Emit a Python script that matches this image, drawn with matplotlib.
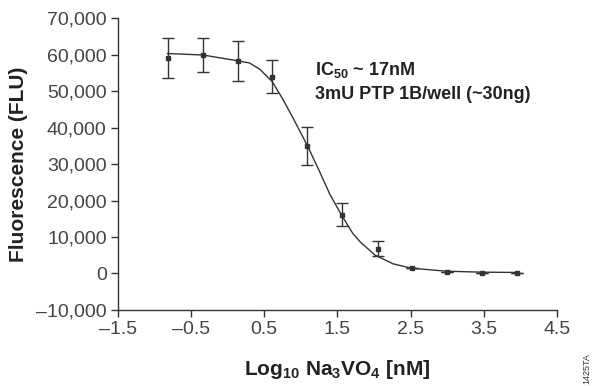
import matplotlib
matplotlib.use('Agg')
import matplotlib.pyplot as plt
from matplotlib.ticker import FuncFormatter

# measured points: log10 [Na3VO4] (nM), fluorescence mean and error
log_conc = [-0.82, -0.34, 0.14, 0.61, 1.09, 1.57, 2.05, 2.52, 3.00, 3.48, 3.95]
flu_mean = [59000, 59900, 58200, 54000, 34900, 16100, 6800, 1400, 450, 150, 150]
flu_err = [5500, 4600, 5500, 4400, 5200, 3100, 2100, 0, 0, 0, 0]

# fitted curve
curve_x = [-0.82, -0.34, 0.14, 0.30, 0.44, 0.61, 0.76, 0.90, 1.03, 1.12, 1.26,
           1.40, 1.56, 1.71, 1.81, 2.01, 2.26, 2.51, 2.99, 3.47, 3.95]
curve_y = [60300, 59900, 58300, 57700, 56000, 52600, 47600, 42400, 37400, 33800,
           27800, 21600, 15900, 11000, 8700, 5100, 2650, 1450, 630, 360, 280]

xticks = [-1.5, -0.5, 0.5, 1.5, 2.5, 3.5, 4.5]
yticks = [-10000, 0, 10000, 20000, 30000, 40000, 50000, 60000, 70000]

ink = '#333333'
bold_family = 'Liberation Sans'

plt.rcParams['mathtext.fontset'] = 'custom'
plt.rcParams['mathtext.rm'] = 'Liberation Sans:bold'
plt.rcParams['mathtext.bf'] = 'Liberation Sans:bold'
plt.rcParams['mathtext.it'] = 'Liberation Sans:bold'
plt.rcParams['mathtext.default'] = 'rm'

fig = plt.figure(figsize=(5.95, 3.86), dpi=100, facecolor='w')
ax = fig.add_axes([0.198, 0.197, 0.738, 0.756])

ax.plot(curve_x, curve_y, color=ink, lw=1.0)
ax.errorbar(log_conc, flu_mean, yerr=flu_err, fmt='s', color=ink, ms=3.5,
            ecolor=ink, elinewidth=1.0, capsize=4, capthick=1.0)

ax.set_xlim(-1.5, 4.5)
ax.set_ylim(-10000, 70000)
ax.set_xticks(xticks)
ax.set_yticks(yticks)


def dash_fmt(v, pos, fmt):
    s = fmt.format(abs(v))
    return ('\u2013' + s) if v < 0 else s


ax.xaxis.set_major_formatter(FuncFormatter(lambda v, p: dash_fmt(v, p, '{:.1f}')))
ax.yaxis.set_major_formatter(FuncFormatter(lambda v, p: dash_fmt(v, p, '{:,.0f}')))

for s in ['top', 'right']:
    ax.spines[s].set_visible(False)
for s in ['left', 'bottom']:
    ax.spines[s].set_color(ink)
    ax.spines[s].set_linewidth(1.0)

ax.tick_params(axis='both', direction='out', length=5, width=1.0, color=ink,
               labelsize=14, labelcolor='#444444', pad=3)
for lab in ax.get_xticklabels() + ax.get_yticklabels():
    lab.set_family('Liberation Sans')

ax.set_xlabel(r'Log$_{10}$ Na$_3$VO$_4$ [nM]', fontsize=15, family=bold_family,
              fontweight='bold', color='#222222', labelpad=14)
ax.set_ylabel('Fluorescence (FLU)', fontsize=15, family=bold_family,
              fontweight='bold', color='#222222', labelpad=6)

ax.text(1.2, 54500, r'IC$_{50}$ ~ 17nM', fontsize=13, family=bold_family,
        fontweight='bold', color='#222222', va='baseline')
ax.text(1.2, 47800, '3mU PTP 1B/well (~30ng)', fontsize=13, family=bold_family,
        fontweight='bold', color='#222222', va='baseline')

fig.text(0.986, 0.005, '1425TA', rotation=90, fontsize=6.5, color='#333333',
         ha='center', va='bottom', family='Liberation Sans')

fig.savefig('out.png', dpi=100)
